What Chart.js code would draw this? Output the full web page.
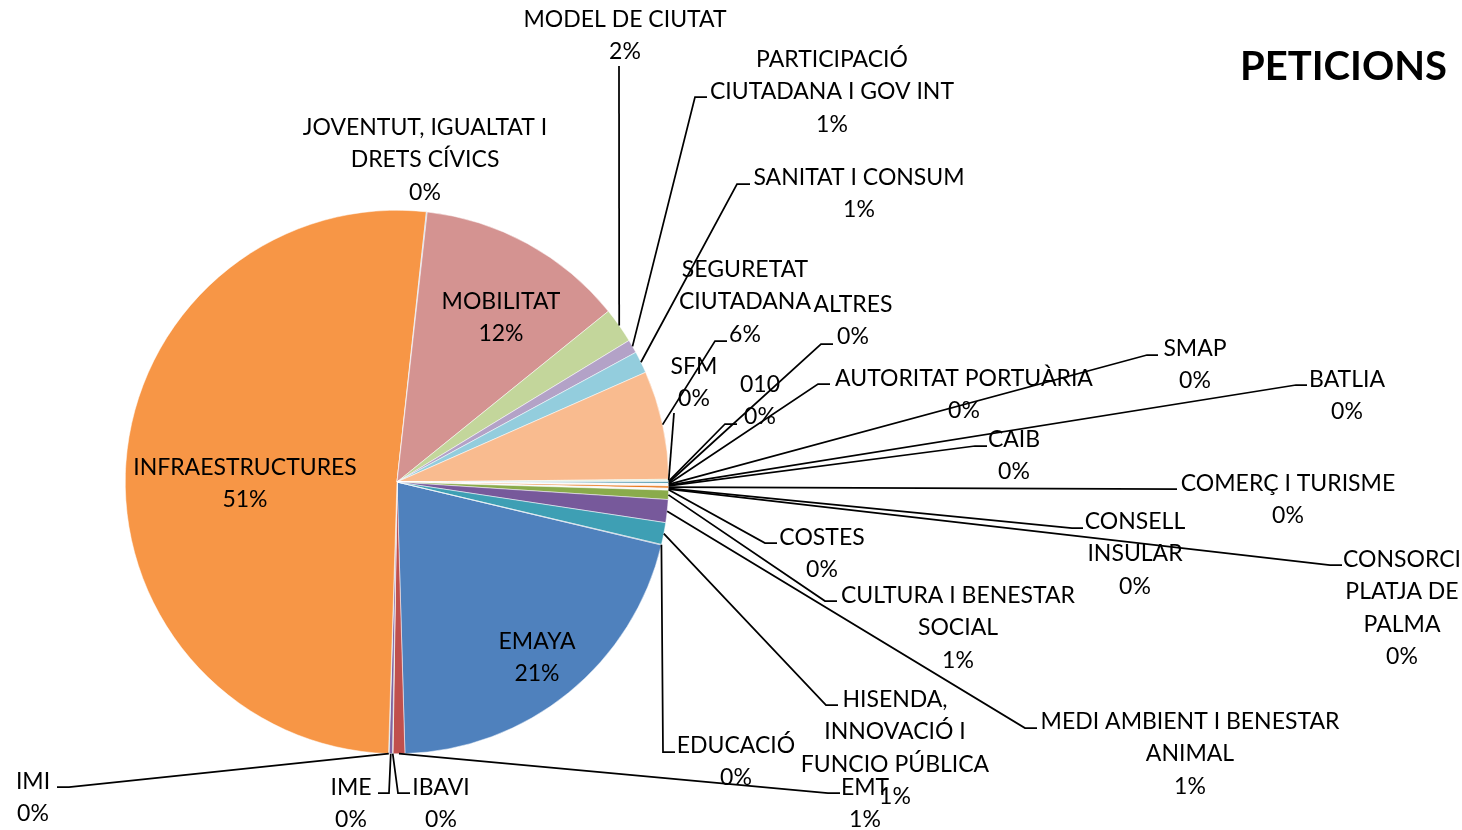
<!DOCTYPE html>
<html>
<head>
<meta charset="utf-8">
<script src="https://cdn.jsdelivr.net/npm/chart.js@4.4.0/dist/chart.umd.min.js"></script>
<style>
  body { margin: 0; background: #ffffff; }
</style>
</head>
<body>
<canvas id="grafico_peticions" width="1462" height="830"></canvas>
<script>
const titulo = "PETICIONS";

// ordem no sentido horario, a partir da fatia EMAYA
const categorias = [
  "EMAYA", "EMT", "IBAVI", "IME", "IMI", "INFRAESTRUCTURES",
  "JOVENTUT, IGUALTAT I\nDRETS CÍVICS", "MOBILITAT", "MODEL DE CIUTAT",
  "PARTICIPACIÓ\nCIUTADANA I GOV INT", "SANITAT I CONSUM", "SEGURETAT\nCIUTADANA",
  "SFM", "010", "ALTRES", "AUTORITAT PORTUÀRIA", "SMAP", "BATLIA", "CAIB",
  "COMERÇ I TURISME", "CONSELL\nINSULAR", "CONSORCI\nPLATJA DE\nPALMA", "COSTES",
  "CULTURA I BENESTAR\nSOCIAL", "MEDI AMBIENT I BENESTAR\nANIMAL",
  "HISENDA,\nINNOVACIÓ I\nFUNCIO PÚBLICA", "EDUCACIÓ"
];

const valores = [
  20.8, 0.7, 0.03, 0.2, 0.03, 51.2,
  0.05, 12.4, 2.1,
  0.8, 1.3, 6.45,
  0.08, 0.06, 0.1, 0.04, 0.04, 0.04, 0.04,
  0.12, 0.04, 0.04, 0.04,
  0.55, 1.36,
  1.3, 0.03
];

const cores = [
  "#4F81BD", "#C0504D", "#9BBB59", "#8064A2", "#4BACC6", "#F79646",
  "#95B3D7", "#D49391", "#C3D69B", "#B3A2C7", "#93CDDD", "#F9BB8F",
  "#D7E4BD", "#B7DEE8", "#31859C", "#DBEEF4", "#F2DCDB", "#E6E0EC", "#EBF1DE",
  "#E46C0A", "#FDEADA", "#DCE6F2", "#F2F2F2",
  "#8AAB4B", "#77599B", "#3E9FB4", "#376092"
];

// posicao dos rotulos: centro do texto, y da primeira linha e pontos da linha guia
const etiquetas = [
  { x: 537, y: 640, linha: null },                        // EMAYA
  { x: 865, y: 786, linha: [[840, 793], [828, 793]] },    // EMT
  { x: 441, y: 786, linha: [[410, 793], [398, 793]] },    // IBAVI
  { x: 351, y: 786, linha: [[378, 793], [389, 793]] },    // IME
  { x: 33, y: 780, linha: [[57, 787], [69, 787]] },       // IMI
  { x: 245, y: 466, linha: null },                        // INFRAESTRUCTURES
  { x: 425, y: 126, linha: null },                        // JOVENTUT
  { x: 501, y: 300, linha: null },                        // MOBILITAT
  { x: 625, y: 18, linha: [[619, 66]] },                  // MODEL DE CIUTAT
  { x: 832, y: 58, linha: [[707, 97], [695, 97]] },       // PARTICIPACIO
  { x: 859, y: 176, linha: [[750, 184], [737, 184]] },    // SANITAT
  { x: 745, y: 268, linha: [[727, 341], [715, 341]] },    // SEGURETAT
  { x: 694, y: 365, linha: [[674, 413]] },                // SFM
  { x: 760, y: 383, linha: [[737, 424], [725, 424]] },    // 010
  { x: 853, y: 303, linha: [[833, 344], [821, 344]] },    // ALTRES
  { x: 964, y: 377, linha: [[830, 384], [818, 384]] },    // AUTORITAT
  { x: 1195, y: 347, linha: [[1158, 355], [1147, 355]] }, // SMAP
  { x: 1347, y: 378, linha: [[1307, 385], [1296, 385]] }, // BATLIA
  { x: 1014, y: 438, linha: [[987, 446], [975, 446]] },   // CAIB
  { x: 1288, y: 482, linha: [[1177, 489]] },              // COMERC
  { x: 1135, y: 520, linha: [[1083, 528], [1072, 528]] }, // CONSELL
  { x: 1402, y: 558, linha: [[1342, 565], [1330, 565]] }, // CONSORCI
  { x: 822, y: 536, linha: [[777, 543], [765, 543]] },    // COSTES
  { x: 958, y: 594, linha: [[837, 601], [825, 601]] },    // CULTURA
  { x: 1190, y: 720, linha: [[1037, 728], [1025, 728]] }, // MEDI AMBIENT
  { x: 895, y: 698, linha: [[838, 705], [826, 705]] },    // HISENDA
  { x: 736, y: 744, linha: [[675, 752], [663, 752]] }     // EDUCACIO
];

const plugin_rotulos = {
  id: "rotulos",
  afterDraw(chart) {
    const ctx = chart.ctx;
    const meta = chart.getDatasetMeta(0);
    const total = valores.reduce((a, b) => a + b, 0);

    ctx.save();
    ctx.strokeStyle = "#000000";
    ctx.lineWidth = 1.75;
    for (let i = 0; i < meta.data.length; i++) {
      const e = etiquetas[i];
      if (!e.linha) continue;
      const arc = meta.data[i].getProps(["x", "y", "startAngle", "endAngle", "outerRadius"], true);
      const meio = (arc.startAngle + arc.endAngle) / 2;
      const px = arc.x + Math.cos(meio) * arc.outerRadius;
      const py = arc.y + Math.sin(meio) * arc.outerRadius;
      ctx.beginPath();
      ctx.moveTo(e.linha[0][0], e.linha[0][1]);
      for (let k = 1; k < e.linha.length; k++) {
        ctx.lineTo(e.linha[k][0], e.linha[k][1]);
      }
      ctx.lineTo(px, py);
      ctx.stroke();
    }

    ctx.fillStyle = "#000000";
    ctx.font = "23px Lato";
    ctx.textAlign = "center";
    ctx.textBaseline = "middle";
    for (let i = 0; i < categorias.length; i++) {
      const e = etiquetas[i];
      const linhas = categorias[i].split("\n");
      linhas.push(Math.round((valores[i] / total) * 100) + "%");
      linhas.forEach((t, k) => ctx.fillText(t, e.x, e.y + 1.5 + k * 32.5));
    }

    ctx.font = "bold 40px Lato";
    ctx.textAlign = "right";
    ctx.textBaseline = "alphabetic";
    ctx.fillText(titulo, 1447, 80);
    ctx.restore();
  },
};

const g_peticions = document.getElementById("grafico_peticions");

new Chart(g_peticions, {
  type: "pie",
  data: {
    labels: categorias,
    datasets: [
      {
        label: "Peticions",
        data: valores,
        backgroundColor: cores,
        borderColor: "#ffffff",
        borderWidth: 0.5,
      },
    ],
  },
  options: {
    responsive: false,
    animation: false,
    rotation: 103.4,
    layout: {
      padding: { left: 125, top: 210, right: 793, bottom: 76 },
    },
    plugins: {
      legend: { display: false },
      tooltip: { enabled: false },
    },
  },
  plugins: [plugin_rotulos],
});
</script>
</body>
</html>
